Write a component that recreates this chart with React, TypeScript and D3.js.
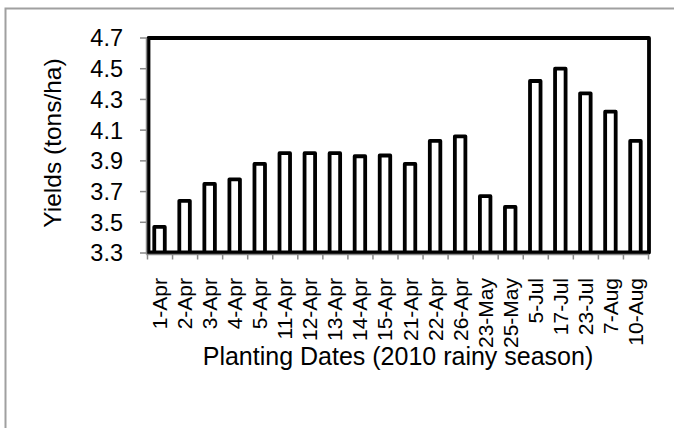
import React from "react";
import * as d3 from "d3";

const categories = ["1-Apr","2-Apr","3-Apr","4-Apr","5-Apr","11-Apr","12-Apr","13-Apr","14-Apr","15-Apr","21-Apr","22-Apr","26-Apr","23-May","25-May","5-Jul","17-Jul","23-Jul","7-Aug","10-Aug"];
const yields = [3.47,3.64,3.75,3.78,3.88,3.95,3.95,3.95,3.93,3.935,3.88,4.03,4.06,3.67,3.60,4.42,4.50,4.34,4.22,4.03];
const yTicks = [3.3,3.5,3.7,3.9,4.1,4.3,4.5,4.7];
const xTitle = "Planting Dates (2010 rainy season)";
const yTitle = "Yields (tons/ha)";

const W = 674, H = 428;
const L = 147, R = 648, T = 38, B = 253;
const FONT = "'Liberation Sans', Arial, sans-serif";

export default function App() {
  const x = d3.scaleBand<string>().domain(categories).range([L, R]).padding(0);
  const y = d3.scaleLinear().domain([3.3, 4.7]).range([B, T]);
  const bw = x.bandwidth() * 0.42;
  return (
    <svg width={W} height={H} style={{ position: "absolute", left: 0, top: 0, background: "#fff" }}>
      <rect x={5.5} y={8.5} width={W + 20} height={H + 20} fill="#fff" stroke="#a0a0a0" strokeWidth={2} />
      {/* bars */}
      {categories.map((c, i) => {
        const cx = x(c)! + x.bandwidth() / 2;
        const top = y(yields[i]);
        const path = `M${cx - bw / 2},${B} L${cx - bw / 2},${top} L${cx + bw / 2},${top} L${cx + bw / 2},${B}`;
        return <path key={c} d={path} fill="#fff" stroke="#000" strokeWidth={3.8} strokeLinejoin="round" />;
      })}
      {/* plot frame */}
      <rect x={L + 1.5} y={T} width={R + 1 - L - 1.5} height={B - T - 0.5} fill="none" stroke="#000" strokeWidth={3.8} strokeLinejoin="round" />
      {/* axes */}
      <line x1={L - 0.5} x2={L - 0.5} y1={T} y2={B + 1.5} stroke="#888" strokeWidth={1.5} />
      <line x1={L - 0.5} x2={R + 1} y1={B + 1.5} y2={B + 1.5} stroke="#888" strokeWidth={1.5} />
      {yTicks.map((t) => (
        <g key={t}>
          <line x1={L - 7} x2={L} y1={y(t)} y2={y(t)} stroke="#888" strokeWidth={1.5} />
          <text x={123} y={y(t)} dy="0.36em" textAnchor="end" fontFamily={FONT} fontSize={23.5} fill="#000">{t.toFixed(1)}</text>
        </g>
      ))}
      {categories.concat(["__end"]).map((c, i) => {
        const xx = i < categories.length ? x(c)! : R;
        return <line key={c} x1={xx + 0.5} x2={xx + 0.5} y1={B + 1.5} y2={B + 6.5} stroke="#888" strokeWidth={1.5} />;
      })}
      {categories.map((c) => {
        const cx = x(c)! + x.bandwidth() / 2;
        return (
          <text key={c} transform={`translate(${cx + 7.5},${278}) rotate(-90)`} textAnchor="end" fontFamily={FONT} fontSize={21} fill="#000">{c}</text>
        );
      })}
      <text x={398} y={365} textAnchor="middle" fontFamily={FONT} fontSize={25} fill="#000">{xTitle}</text>
      <text transform={`translate(61,143) rotate(-90)`} textAnchor="middle" fontFamily={FONT} fontSize={24.5} fill="#000">{yTitle}</text>
    </svg>
  );
}
